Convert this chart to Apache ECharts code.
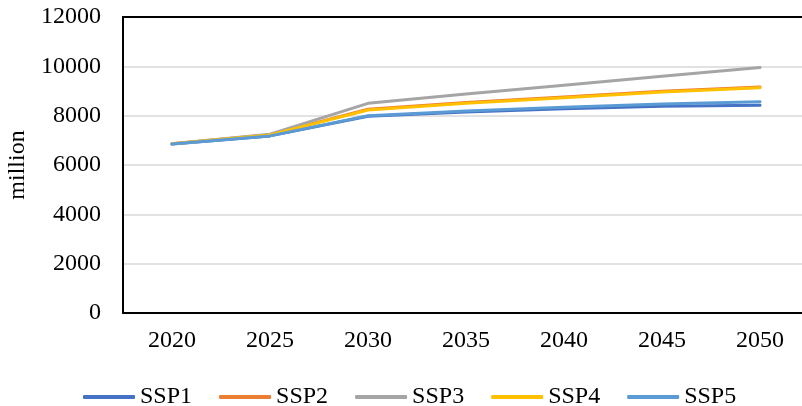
<!DOCTYPE html>
<html>
<head>
<meta charset="utf-8">
<script src="https://cdn.jsdelivr.net/npm/echarts@6/dist/echarts.min.js"></script>
<style>
html, body { margin: 0; padding: 0; background: #fff; overflow: hidden; }
/* canvas is a bit wider than the window: the plot area runs off the right edge */
#main { width: 812px; height: 406px; }
</style>
</head>
<body>
<div id="main"></div>
<script>
var years = ['2020', '2025', '2030', '2035', '2040', '2045', '2050'];
var ssp1 = [6850, 7180, 7980, 8150, 8280, 8380, 8420];
var ssp2 = [6860, 7230, 8260, 8530, 8760, 8990, 9160];
var ssp3 = [6860, 7250, 8500, 8880, 9230, 9600, 9950];
var ssp4 = [6860, 7220, 8230, 8500, 8730, 8960, 9130];
var ssp5 = [6850, 7180, 8000, 8190, 8340, 8470, 8560];

var names = ['SSP1', 'SSP2', 'SSP3', 'SSP4', 'SSP5'];
var colors = ['#4472C4', '#ED7D31', '#A5A5A5', '#FFC000', '#5B9BD5'];
var values = [ssp1, ssp2, ssp3, ssp4, ssp5];

var font = '"Liberation Serif", "Times New Roman", serif';

var myChart = echarts.init(document.getElementById('main'));

var series = names.map(function (n, i) {
    return {
        name: n,
        type: 'line',
        data: values[i],
        showSymbol: false,
        symbol: 'none',
        color: colors[i],
        lineStyle: { width: 3, color: colors[i], cap: 'round', join: 'round' },
        z: i == 4 ? 10 : 2 + i
    };
});

var frameLine = { show: true, lineStyle: { color: '#000', width: 2 } };

var option = {
    animation: false,
    grid: {
        left: 123,
        top: 17,
        bottom: 93,
        right: 3,
        outerBoundsMode: 'none',
        containLabel: false
    },
    legend: {
        left: 78,
        top: 380,
        itemWidth: 52,
        itemHeight: 4,
        itemGap: 27,
        icon: 'roundRect',
        textStyle: { fontFamily: font, fontSize: 24, color: '#000' },
        data: names
    },
    xAxis: [
        {
            type: 'category',
            data: years,
            boundaryGap: true,
            axisLine: frameLine,
            axisTick: { show: false },
            axisLabel: { fontFamily: font, fontSize: 24, color: '#000', margin: 16 }
        },
        {
            type: 'category',
            position: 'top',
            data: years,
            boundaryGap: true,
            axisLine: frameLine,
            axisTick: { show: false },
            axisLabel: { show: false }
        }
    ],
    yAxis: {
        type: 'value',
        min: 0,
        max: 12000,
        interval: 2000,
        name: 'million',
        nameLocation: 'middle',
        nameGap: 81,
        nameTextStyle: { fontFamily: font, fontSize: 24, color: '#000' },
        axisLine: frameLine,
        axisTick: { show: false },
        splitLine: { lineStyle: { color: '#d9d9d9', width: 1.5 } },
        axisLabel: {
            fontFamily: font, fontSize: 24, color: '#000', margin: 22,
            formatter: function (v) { return String(v); }
        }
    },
    series: series
};

myChart.setOption(option);
</script>
</body>
</html>
